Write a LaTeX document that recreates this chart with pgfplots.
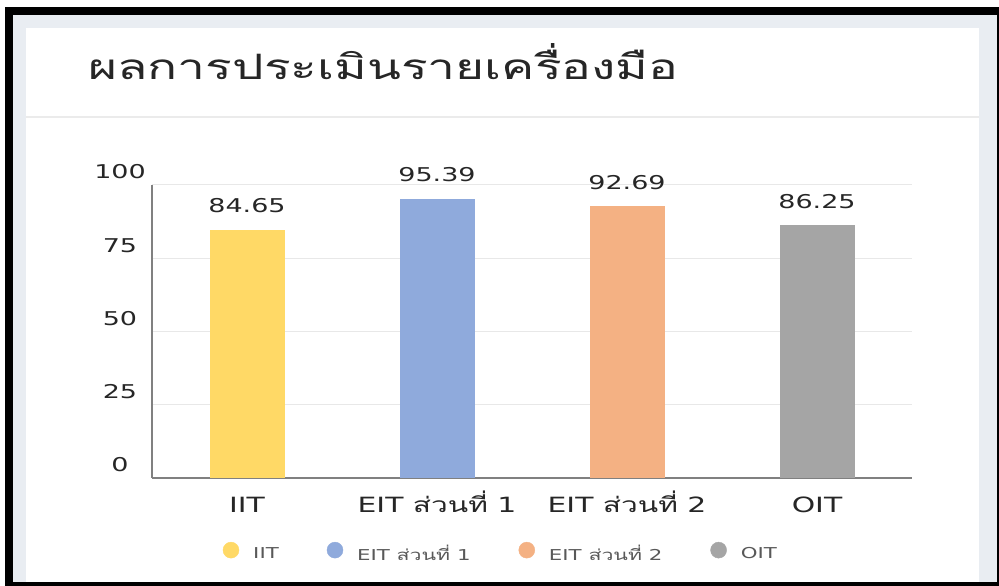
\documentclass[border=0pt]{standalone}
\usepackage{pgfplots}
\pgfplotsset{compat=1.18}
\usepackage{fontspec}
\setmainfont{DejaVu Sans}[FakeStretch=1.42]
\newfontfamily\thaifont[Script=Thai,FakeStretch=1.42]{Loma}
\definecolor{BarYellow}{HTML}{FFD966}
\definecolor{BarBlue}{HTML}{8FAADC}
\definecolor{BarOrange}{HTML}{F4B183}
\definecolor{BarGrey}{HTML}{A5A5A5}
\definecolor{PageGrey}{HTML}{E9EDF2}
\definecolor{SepGrey}{HTML}{EBEBEB}
\definecolor{GridGrey}{HTML}{E8E8E8}
\definecolor{AxisGrey}{HTML}{808080}
\definecolor{TextDark}{HTML}{262626}
\definecolor{LegText}{HTML}{595959}

\begin{document}
\begin{tikzpicture}[x=1pt,y=1pt]
\useasboundingbox (0,0) rectangle (999,586);
% frame and card
\fill[white] (0,0) rectangle (999,586);
\fill[black] (5,0) rectangle (999,579);
\fill[PageGrey] (13,4) rectangle (997,571);
\fill[white] (26,4) rectangle (979,558);
\draw[SepGrey,line width=2pt] (26,469) -- (979,469);
\node[anchor=base west,inner sep=0,text=TextDark,font=\thaifont\fontsize{35}{41}\selectfont] at (88,506) {ผลการประเมินรายเครื่องมือ};

\begin{axis}[
  scale only axis,width=760pt,height=293pt,
  at={(152pt,108pt)},anchor=south west,
  xmin=-0.5,xmax=3.5,ymin=0,ymax=100,
  axis x line=bottom,axis y line=left,
  axis line style={AxisGrey,line width=1.2pt,-},
  ytick={0,25,50,75,100},
  xtick={0,1,2,3},
  xticklabels={IIT,{EIT {\thaifont ส่วนที่} 1},{EIT {\thaifont ส่วนที่} 2},OIT},
  major tick length=0pt,
  ymajorgrids,
  major grid style={GridGrey,line width=1pt},
  /pgf/number format/assume math mode=true,
  yticklabel style={anchor=base,xshift=-32pt,yshift=6pt,text=TextDark,font=\fontsize{19}{23}\selectfont},
  xticklabel style={anchor=base,yshift=-35pt,text=TextDark,font=\fontsize{21}{25}\selectfont},
  ybar,bar width=75pt,
  nodes near coords={\pgfmathprintnumber[fixed,precision=2,fixed zerofill]{\pgfplotspointmeta}},
  nodes near coords style={anchor=base,yshift=17pt,text=TextDark,font=\fontsize{19}{23}\selectfont},
  legend columns=4,
  legend style={at={(0.459,-0.256)},anchor=center,draw=none,fill=none,
    font=\fontsize{15}{18}\selectfont,text=LegText,
    /tikz/every odd column/.append style={column sep=12pt},
    /tikz/every even column/.append style={column sep=46pt}},
]
\addplot[bar shift=0pt,fill=BarYellow,draw=none,forget plot] coordinates {(0,84.65)};
\addplot[bar shift=0pt,fill=BarBlue,draw=none,forget plot] coordinates {(1,95.39)};
\addplot[bar shift=0pt,fill=BarOrange,draw=none,forget plot] coordinates {(2,92.69)};
\addplot[bar shift=0pt,fill=BarGrey,draw=none,forget plot] coordinates {(3,86.25)};
\addlegendimage{legend image code/.code={\fill[BarYellow] (8pt,0.35em) circle (8pt);}}
\addlegendentry{IIT}
\addlegendimage{legend image code/.code={\fill[BarBlue] (8pt,0.35em) circle (8pt);}}
\addlegendentry{EIT {\thaifont ส่วนที่} 1}
\addlegendimage{legend image code/.code={\fill[BarOrange] (8pt,0.35em) circle (8pt);}}
\addlegendentry{EIT {\thaifont ส่วนที่} 2}
\addlegendimage{legend image code/.code={\fill[BarGrey] (8pt,0.35em) circle (8pt);}}
\addlegendentry{OIT}
\end{axis}
\end{tikzpicture}
\end{document}
